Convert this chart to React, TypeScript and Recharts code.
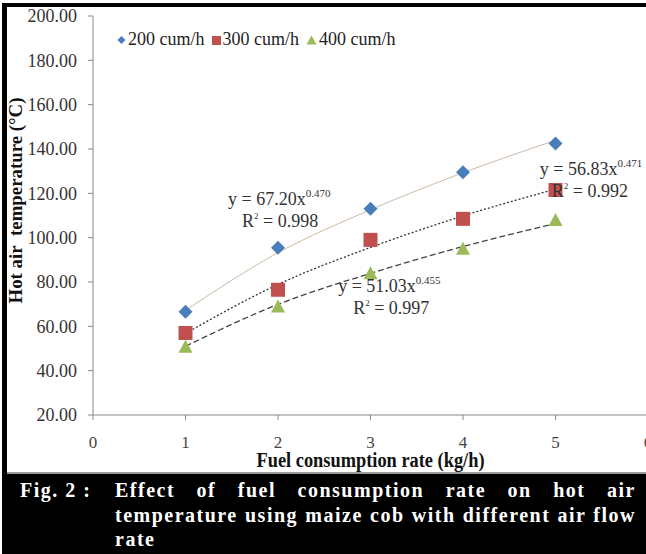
import {
  ComposedChart, Line, Scatter, XAxis, YAxis, ReferenceDot
} from 'recharts'

// fuel consumption rate (kg/h)
const fuelRate = [1, 2, 3, 4, 5]

// measured hot air temperature (°C) per air flow rate
const temp200 = [66.6, 95.5, 113.0, 129.5, 142.5]
const temp300 = [57.0, 76.5, 99.0, 108.5, 121.5]
const temp400 = [50.8, 69.0, 84.0, 95.0, 108.0]

// power trendline values at each fuel rate
const trend200 = [67.2, 93.2, 112.6, 129.3, 143.9]
const trend300 = [56.8, 78.9, 95.6, 109.8, 121.9]
const trend400 = [51.0, 69.9, 83.9, 96.0, 106.4]

const seriesNames = ['200 cum/h', '300 cum/h', '400 cum/h']
const eqCoef = ['67.20', '56.83', '51.03']
const eqExp = ['0.470', '0.471', '0.455']
const eqR2 = ['0.998', '0.992', '0.997']

const xTicks = [0, 1, 2, 3, 4, 5, 6]
const yTicks = [20, 40, 60, 80, 100, 120, 140, 160, 180, 200]

const FONT = '"Liberation Serif", "Times New Roman", serif'
const BLUE = '#4a7ebb'
const RED = '#c0504d'
const GREEN = '#9bbb59'

const toPts = (vals: number[]) => fuelRate.map((x, i) => ({ x, y: vals[i] }))

const Diamond = ({ cx, cy }: any) => (
  <polygon points={`${cx},${cy - 7} ${cx + 7},${cy} ${cx},${cy + 7} ${cx - 7},${cy}`} fill={BLUE} />
)
const Square = ({ cx, cy }: any) => (
  <rect x={cx - 7} y={cy - 7} width={14} height={14} fill={RED} />
)
const Triangle = ({ cx, cy }: any) => (
  <polygon points={`${cx},${cy - 7} ${cx + 7},${cy + 6} ${cx - 7},${cy + 6}`} fill={GREEN} />
)

// label anchors in data units, plus x offset of the R² line
const eqAnchors = [
  { x: 1.46, y: 114.7, dx: 14 },
  { x: 4.83, y: 128.3, dx: 12 },
  { x: 2.65, y: 75.5, dx: 15 },
]

const eqShape = (i: number) => ({ cx, cy }: any) => (
  <g fontFamily={FONT} fill="#333">
    <text x={cx} y={cy} fontSize={18}>
      y = {eqCoef[i]}x<tspan fontSize={11} dy={-8}>{eqExp[i]}</tspan>
    </text>
    <text x={cx + eqAnchors[i].dx} y={cy + 22} fontSize={18}>
      R<tspan fontSize={9} dy={-8}>2</tspan><tspan dy={8}> = {eqR2[i]}</tspan>
    </text>
  </g>
)

const yTitle = (props: any) => {
  const vb = props.viewBox || { x: 0, y: 16, height: 399 }
  const cx = 22
  const cy = vb.y + vb.height / 2 - 15
  return (
    <text x={cx} y={cy} transform={`rotate(-90 ${cx} ${cy})`} textAnchor="middle"
      fontFamily={FONT} fontWeight="bold" fontSize={19} fill="#111"
      textLength={206} lengthAdjust="spacingAndGlyphs">
      Hot air&#160; temperature (°C)
    </text>
  )
}

const xTitle = (props: any) => {
  const vb = props.viewBox || { x: 93, y: 415, width: 555 }
  return (
    <text x={vb.x + vb.width / 2} y={467} textAnchor="middle"
      fontFamily={FONT} fontWeight="bold" fontSize={20} fill="#111"
      textLength={228} lengthAdjust="spacingAndGlyphs">
      Fuel consumption rate (kg/h)
    </text>
  )
}

const legendMarks = [
  <svg width={9} height={10} key="d"><polygon points="4.5,1 8.5,5 4.5,9 0.5,5" fill={BLUE} /></svg>,
  <svg width={9} height={10} key="s"><rect x={0} y={1} width={9} height={9} fill={RED} /></svg>,
  <svg width={11} height={10} key="t"><polygon points="5.5,0.5 10.5,9.5 0.5,9.5" fill={GREEN} /></svg>,
]

export default function App() {
  return (
    <div style={{ position: 'absolute', left: 0, top: 0, width: 646, height: 554, overflow: 'hidden', background: '#fff', fontFamily: FONT }}>
      <div style={{ position: 'absolute', left: 0, top: 0 }}>
        <ComposedChart width={660} height={472} margin={{ top: 16, right: 12, left: 0, bottom: 0 }}>
          <XAxis
            dataKey="x"
            type="number"
            domain={[0, 6]}
            ticks={xTicks}
            interval={0}
            stroke="#888"
            tickSize={5}
            tickMargin={16}
            height={57}
            tick={{ fill: '#444', fontSize: 17, fontFamily: FONT }}
            label={{ content: xTitle }}
          />
          <YAxis
            type="number"
            domain={[20, 200]}
            ticks={yTicks}
            interval={0}
            width={93}
            stroke="#888"
            tickSize={5}
            tickMargin={11}
            tickFormatter={(v: number) => v.toFixed(2)}
            tick={{ fill: '#333', fontSize: 18, fontFamily: FONT }}
            label={{ content: yTitle }}
          />
          <Line data={toPts(trend200)} dataKey="y" type="monotone" stroke="#cbbba8" strokeWidth={1} dot={false} isAnimationActive={false} />
          <Line data={toPts(trend300)} dataKey="y" type="monotone" stroke="#333" strokeWidth={1.3} strokeDasharray="2 2" dot={false} isAnimationActive={false} />
          <Line data={toPts(trend400)} dataKey="y" type="monotone" stroke="#444" strokeWidth={1.3} strokeDasharray="6 3" dot={false} isAnimationActive={false} />
          <Scatter data={toPts(temp200)} dataKey="y" shape={Diamond} isAnimationActive={false} />
          <Scatter data={toPts(temp300)} dataKey="y" shape={Square} isAnimationActive={false} />
          <Scatter data={toPts(temp400)} dataKey="y" shape={Triangle} isAnimationActive={false} />
          {eqAnchors.map((a, i) => (
            <ReferenceDot key={i} x={a.x} y={a.y} r={0} shape={eqShape(i)} />
          ))}
        </ComposedChart>
      </div>

      <div style={{ position: 'absolute', left: 117, top: 29, display: 'flex', alignItems: 'center', fontSize: 18, color: '#222', whiteSpace: 'nowrap' }}>
        {seriesNames.map((n, i) => (
          <span key={n} style={{ display: 'flex', alignItems: 'center', marginRight: 7 }}>
            {legendMarks[i]}
            <span style={{ marginLeft: 2 }}>{n}</span>
          </span>
        ))}
      </div>

      {/* frame */}
      <div style={{ position: 'absolute', left: 2, top: 3, width: 5, height: 551, background: '#000' }} />
      <div style={{ position: 'absolute', left: 2, top: 3, width: 644, height: 4, background: '#000' }} />
      <div style={{ position: 'absolute', left: 7, top: 472, width: 639, height: 2, background: '#999' }} />

      {/* caption */}
      <div style={{ position: 'absolute', left: 2, top: 474, width: 644, height: 80, background: '#000', color: '#fff', fontWeight: 'bold', fontSize: 20, lineHeight: '24.5px', letterSpacing: 1.5, whiteSpace: 'nowrap' }}>
        <div style={{ position: 'absolute', left: 18, top: 4 }}>Fig. 2 :</div>
        <div style={{ position: 'absolute', left: 113, top: 4, width: 521 }}>
          <div style={{ textAlign: 'justify', textAlignLast: 'justify', whiteSpace: 'normal' }}>Effect of fuel consumption rate on hot air</div>
          <div style={{ textAlign: 'justify', textAlignLast: 'justify', whiteSpace: 'normal' }}>temperature using maize cob with different air flow</div>
          <div>rate</div>
        </div>
      </div>
    </div>
  )
}
